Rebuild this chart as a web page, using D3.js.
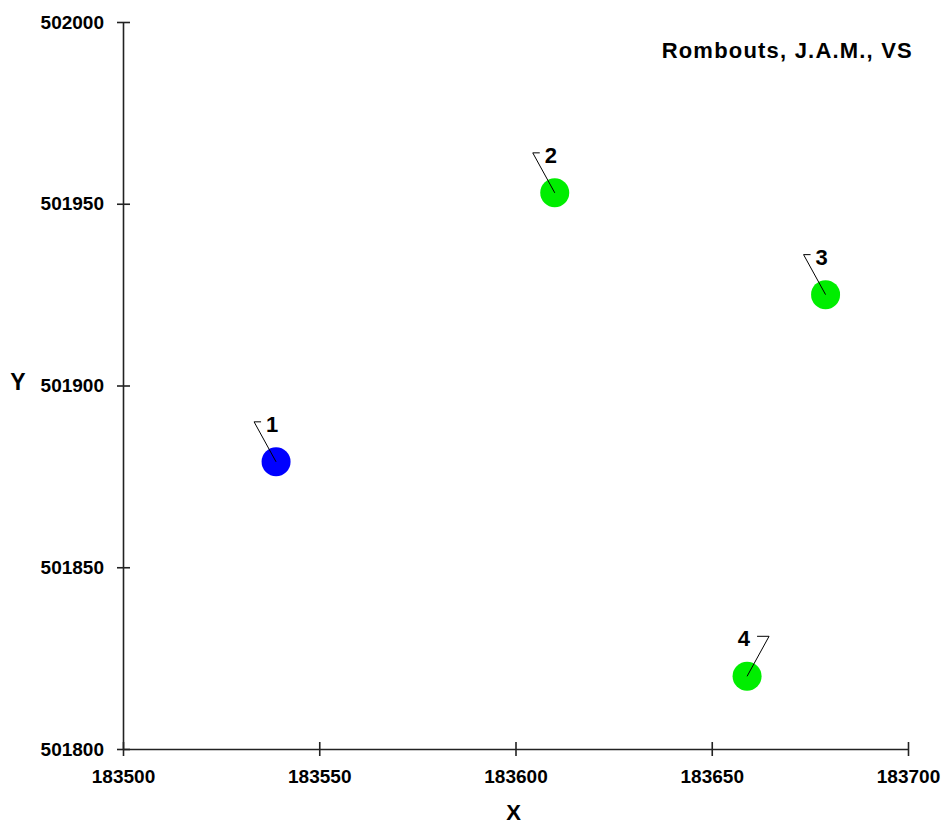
<!DOCTYPE html>
<html>
<head>
<meta charset="utf-8">
<script src="https://cdn.jsdelivr.net/npm/d3@7"></script>
<style>
  html, body { margin: 0; padding: 0; background: #fff; }
  svg { display: block; font-family: "Liberation Sans", Arial, sans-serif; }
</style>
</head>
<body>
<svg id="chart" width="945" height="826"></svg>
<script>
// ---- data ----
const pointIds = ["1", "2", "3", "4"];
const xValues = [183539, 183610, 183679, 183659];
const yValues = [501879, 501953, 501925, 501820];
const pointColors = ["#0000ff", "#00ee00", "#00ee00", "#00ee00"];
const labelSides = ["left", "left", "left", "right"];
const xTicks = [183500, 183550, 183600, 183650, 183700];
const yTicks = [501800, 501850, 501900, 501950, 502000];
const titleText = "Rombouts, J.A.M., VS";
const xTitle = "X";
const yTitle = "Y";

// ---- layout ----
const svg = d3.select("#chart");
const mLeft = 123, mRight = 908, mTop = 22, mBottom = 749;

const x = d3.scaleLinear().domain([183500, 183700]).range([mLeft, mRight]);
const y = d3.scaleLinear().domain([501800, 502000]).range([mBottom, mTop]);

const axisColor = "#222";

// y axis
const gy = svg.append("g").attr("transform", `translate(${mLeft},0)`)
  .call(d3.axisLeft(y).tickValues(yTicks).tickFormat(d3.format("d"))
        .tickSize(6).tickSizeOuter(0).tickPadding(13));
gy.select(".domain").attr("stroke", axisColor).attr("stroke-width", 1.6);
gy.selectAll(".tick line").attr("x1", -6).attr("x2", 7).attr("stroke", axisColor).attr("stroke-width", 1.6);
gy.selectAll(".tick text").attr("font-size", 19).attr("font-weight", "bold")
  .attr("font-family", "Liberation Sans, Arial, sans-serif").attr("fill", "#000");

// x axis
const gx = svg.append("g").attr("transform", `translate(0,${mBottom})`)
  .call(d3.axisBottom(x).tickValues(xTicks).tickFormat(d3.format("d"))
        .tickSize(7).tickSizeOuter(0).tickPadding(14));
gx.select(".domain").attr("stroke", axisColor).attr("stroke-width", 1.6);
gx.selectAll(".tick line").attr("y1", -7).attr("y2", 7).attr("stroke", axisColor).attr("stroke-width", 1.6);
gx.selectAll(".tick text").attr("font-size", 19).attr("font-weight", "bold")
  .attr("font-family", "Liberation Sans, Arial, sans-serif").attr("fill", "#000");

// axis titles
svg.append("text").attr("x", (mLeft + mRight) / 2 - 2).attr("y", 820)
  .attr("text-anchor", "middle").attr("font-size", 22).attr("font-weight", "bold").text(xTitle);
svg.append("text").attr("x", 18).attr("y", 390)
  .attr("text-anchor", "middle").attr("font-size", 23).attr("font-weight", "bold").text(yTitle);

// chart title
svg.append("text").attr("x", 913).attr("y", 58)
  .attr("text-anchor", "end").attr("font-size", 22).attr("font-weight", "bold")
  .attr("letter-spacing", "1.2px").text(titleText);

// points
const pts = pointIds.map((id, i) => ({ id, xv: xValues[i], yv: yValues[i], color: pointColors[i], side: labelSides[i] }));

const g = svg.append("g");
g.selectAll("circle").data(pts).join("circle")
  .attr("cx", d => x(d.xv)).attr("cy", d => y(d.yv)).attr("r", 14.5)
  .attr("fill", d => d.color);

// leader lines
const ldx = 22, ldy = -40;
g.selectAll("path.leader").data(pts).join("path")
  .attr("class", "leader")
  .attr("fill", "none").attr("stroke", "#000").attr("stroke-width", 1)
  .attr("d", d => {
    const cx = x(d.xv), cy = y(d.yv);
    const s = d.side === "left" ? -1 : 1;
    const ex = cx + s * ldx, ey = cy + ldy;
    const hl = d.side === "left" ? 7 : 12;
    return `M${cx},${cy}L${ex},${ey}L${ex - s * hl},${ey}`;
  });

// point labels
g.selectAll("text.plabel").data(pts).join("text")
  .attr("class", "plabel")
  .attr("x", d => {
    const cx = x(d.xv);
    return d.side === "left" ? cx - ldx + 12 : cx + ldx - 19;
  })
  .attr("y", d => y(d.yv) + ldy + 10)
  .attr("text-anchor", d => d.side === "left" ? "start" : "end")
  .attr("font-size", 22).attr("font-weight", "bold").attr("fill", "#000")
  .text(d => d.id);
</script>
</body>
</html>
